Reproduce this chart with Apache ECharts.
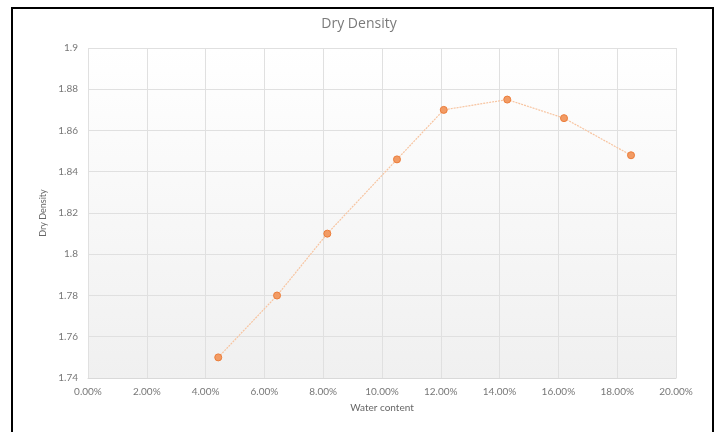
<!DOCTYPE html>
<html>
<head>
<meta charset="utf-8">
<script src="https://cdn.jsdelivr.net/npm/echarts@6/dist/echarts.min.js"></script>
<style>
html,body{margin:0;padding:0;background:#fff;}
#c{width:718px;height:432px;}
</style>
</head>
<body>
<div id="c"></div>
<script>
var waterContent = [0.0443, 0.0643, 0.0814, 0.1051, 0.1210, 0.1426, 0.1619, 0.1847];
var dryDensity = [1.750, 1.780, 1.810, 1.846, 1.870, 1.875, 1.866, 1.848];
var titleText = 'Dry Density';
var xName = 'Water content';
var yName = 'Dry Density';

var pts = waterContent.map(function (x, i) { return [x, dryDensity[i]]; });
var chart = echarts.init(document.getElementById('c'));
var font = 'Lato, "Open Sans", sans-serif';
chart.setOption({
  animation: false,
  backgroundColor: '#fff',
  title: {
    text: titleText, left: 'center', top: 12,
    textStyle: { fontFamily: '"Open Sans", sans-serif', fontSize: 14, fontWeight: 'normal', color: '#7a7a7a' }
  },
  graphic: [{
    type: 'rect', silent: true,
    shape: { x: 12, y: 8, width: 701, height: 440 },
    style: { fill: 'none', stroke: '#000', lineWidth: 2 }
  }],
  grid: {
    left: 88, top: 48, width: 588, height: 330,
    show: true, borderWidth: 0,
    backgroundColor: new echarts.graphic.LinearGradient(0, 0, 0, 1, [
      { offset: 0, color: '#ffffff' }, { offset: 1, color: '#f0f0f0' }
    ])
  },
  xAxis: {
    type: 'value', min: 0, max: 0.2, interval: 0.02,
    name: xName, nameLocation: 'middle', nameGap: 25,
    nameTextStyle: { fontFamily: font, fontSize: 10, color: '#666' },
    axisLine: { show: true, lineStyle: { color: '#d9d9d9' } },
    axisTick: { show: false },
    axisLabel: {
      fontFamily: font, fontSize: 10, color: '#777', margin: 9,
      formatter: function (v) { return (v * 100).toFixed(2) + '%'; }
    },
    splitLine: { show: true, lineStyle: { color: '#e0e0e0', width: 1 } }
  },
  yAxis: {
    type: 'value', min: 1.74, max: 1.9, interval: 0.02,
    name: yName, nameLocation: 'middle', nameGap: 37,
    nameTextStyle: { fontFamily: font, fontSize: 9, color: '#666' },
    axisLine: { show: false },
    axisTick: { show: false },
    axisLabel: {
      fontFamily: font, fontSize: 10, color: '#777', margin: 10,
      formatter: function (v) { return String(+v.toFixed(2)); }
    },
    splitLine: { show: true, lineStyle: { color: '#e0e0e0', width: 1 } }
  },
  series: [{
    type: 'line', data: pts,
    symbol: 'circle', symbolSize: 7,
    lineStyle: { color: '#f7c4a0', width: 1.2, type: [2, 1] },
    itemStyle: { color: '#f29b64', borderColor: '#ec7d3a', borderWidth: 1 }
  }]
});
</script>
</body>
</html>
